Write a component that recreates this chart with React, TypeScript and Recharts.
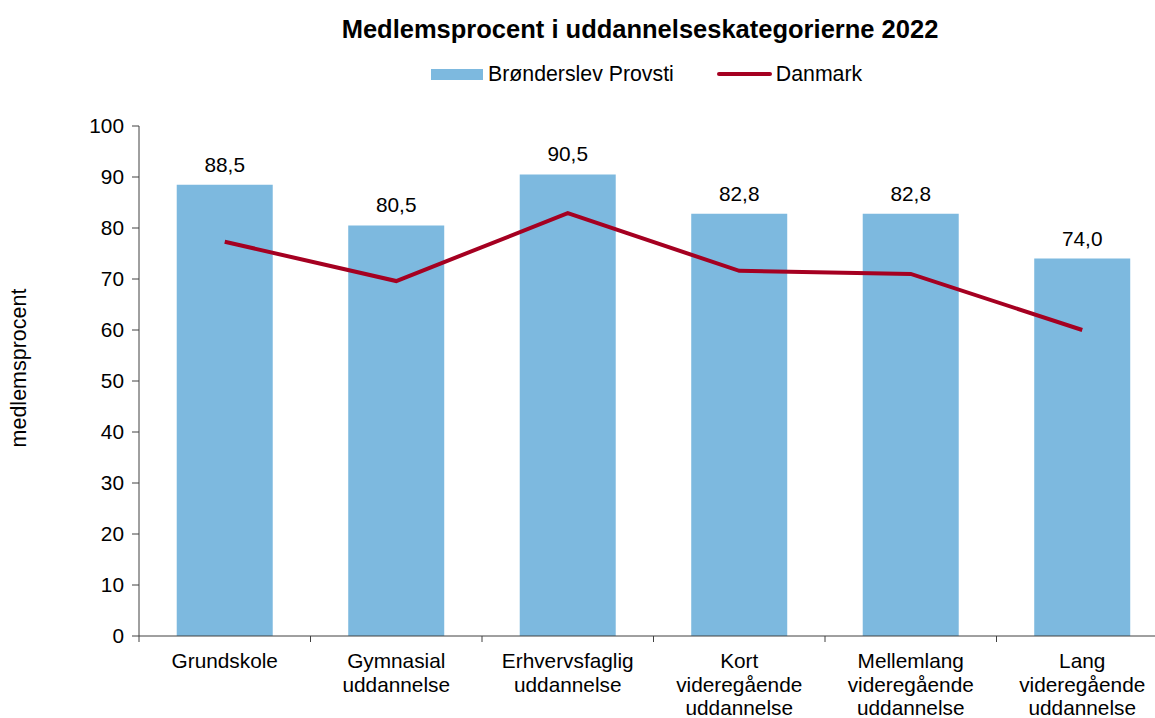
import React from "react";
import {
  Bar,
  ComposedChart,
  LabelList,
  Line,
  XAxis,
  YAxis,
} from "recharts";

const categories = [
  "Grundskole",
  "Gymnasial\nuddannelse",
  "Erhvervsfaglig\nuddannelse",
  "Kort\nvideregående\nuddannelse",
  "Mellemlang\nvideregående\nuddannelse",
  "Lang\nvideregående\nuddannelse",
];
const provsti = [88.5, 80.5, 90.5, 82.8, 82.8, 74.0];
const danmark = [77.3, 69.6, 82.9, 71.6, 71.0, 60.0];
const yTicks = [0, 10, 20, 30, 40, 50, 60, 70, 80, 90, 100];

const data = categories.map((c, i) => ({
  kategori: c,
  provsti: provsti[i],
  danmark: danmark[i],
}));

const FONT = "'Liberation Sans', Arial, sans-serif";
const FS = 20.8;
const BAR_COLOR = "#7DB9DF";
const LINE_COLOR = "#A50021";
const AXIS_COLOR = "#404040";

const CHART_W = 1180;
const CHART_H = 718;
const MARGIN = { top: 126, right: 12, left: 0, bottom: 0 };
const Y_AXIS_W = 139;
const X_AXIS_H = 82;
const HALF_BAND = (CHART_W - MARGIN.right - Y_AXIS_W) / categories.length / 2;

const CategoryTick = (props: any) => {
  const { x, y, payload } = props;
  const lines = String(payload.value).split("\n");
  return (
    <g>
      <line
        x1={x - HALF_BAND}
        x2={x - HALF_BAND}
        y1={y - 8}
        y2={y - 2}
        stroke={AXIS_COLOR}
        strokeWidth={1}
      />
      <text
        x={x}
        y={y + 24}
        textAnchor="middle"
        fill="#000"
        fontSize={FS}
        fontFamily={FONT}
      >
        {lines.map((l, i) => (
          <tspan key={i} x={x} dy={i === 0 ? 0 : 23.5}>
            {l}
          </tspan>
        ))}
      </text>
    </g>
  );
};

const YLabel = (props: any) => {
  const { viewBox } = props;
  const cx = 19;
  const cy = viewBox.y + viewBox.height / 2 - 13;
  return (
    <text
      x={cx}
      y={cy}
      transform={`rotate(-90 ${cx} ${cy})`}
      textAnchor="middle"
      dominantBaseline="central"
      fontSize={21.5}
      fontFamily={FONT}
      fill="#000"
    >
      medlemsprocent
    </text>
  );
};

const Legend = () => (
  <div
    style={{
      position: "absolute",
      top: 62,
      left: 431,
      display: "flex",
      alignItems: "center",
      fontFamily: FONT,
      fontSize: 21.3,
      lineHeight: "24px",
      color: "#000",
      whiteSpace: "nowrap",
    }}
  >
    <span
      style={{ display: "inline-block", width: 52, height: 11, background: BAR_COLOR }}
    />
    <span style={{ marginLeft: 5 }}>Brønderslev Provsti</span>
    <span
      style={{
        display: "inline-block",
        width: 55,
        height: 4,
        borderRadius: 2,
        background: LINE_COLOR,
        marginLeft: 43,
      }}
    />
    <span style={{ marginLeft: 4 }}>Danmark</span>
  </div>
);

export default function App() {
  return (
    <div
      style={{
        position: "absolute",
        left: 0,
        top: 0,
        width: 1155,
        height: 718,
        overflow: "hidden",
        background: "#fff",
      }}
    >
      <div
        style={{
          position: "absolute",
          top: 15,
          left: 0,
          width: 1280,
          textAlign: "center",
          fontFamily: FONT,
          fontWeight: "bold",
          fontSize: 25.5,
          color: "#000",
        }}
      >
        Medlemsprocent i uddannelseskategorierne 2022
      </div>
      <Legend />
      <ComposedChart width={CHART_W} height={CHART_H} data={data} margin={MARGIN} barCategoryGap="22%">
        <XAxis
          dataKey="kategori"
          tick={<CategoryTick />}
          tickLine={false}
          axisLine={{ stroke: AXIS_COLOR }}
          interval={0}
          height={X_AXIS_H}
        />
        <YAxis
          domain={[0, 100]}
          ticks={yTicks}
          width={Y_AXIS_W}
          tickSize={7}
          tickMargin={8}
          tickLine={{ stroke: AXIS_COLOR }}
          axisLine={{ stroke: AXIS_COLOR }}
          tick={{ fill: "#000", fontSize: FS, fontFamily: FONT }}
          label={<YLabel />}
        />
        <Bar dataKey="provsti" fill={BAR_COLOR} isAnimationActive={false}>
          <LabelList
            dataKey="provsti"
            position="top"
            offset={13}
            formatter={(v: any) => Number(v).toFixed(1).replace(".", ",")}
            style={{ fill: "#000", fontSize: FS, fontFamily: FONT }}
          />
        </Bar>
        <Line
          dataKey="danmark"
          type="linear"
          stroke={LINE_COLOR}
          strokeWidth={4}
          dot={false}
          activeDot={false}
          isAnimationActive={false}
        />
      </ComposedChart>
    </div>
  );
}
